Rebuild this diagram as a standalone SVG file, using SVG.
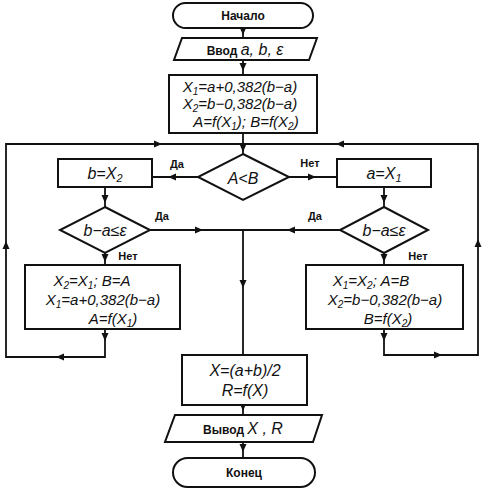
<svg xmlns="http://www.w3.org/2000/svg" xmlns:xlink="http://www.w3.org/1999/xlink" width="494" height="500" viewBox="0 0 494 500">
<style>
.s{fill:#fff;stroke:#111;stroke-width:2}
.c{fill:none;stroke:#111;stroke-width:1.8}
.f{font-family:"Liberation Sans","DejaVu Sans",sans-serif;font-style:italic;font-size:16px;fill:#111;text-anchor:middle}
.m{font-size:15px}
.l{font-family:"Liberation Sans","DejaVu Sans",sans-serif;font-weight:bold;font-size:11px;fill:#111;text-anchor:middle}
.t{font-family:"Liberation Sans","DejaVu Sans",sans-serif;font-weight:bold;font-size:12px;fill:#111;text-anchor:middle}
</style>
<defs>
<path id="ah" d="M0,0 L-8,-3.5 L-8,3.5 Z" fill="#111"/>
</defs>
<rect width="494" height="500" fill="#fff"/>
<g id="connectors">
<path class="c" d="M243,28 V38 M243,60 V75 M243,133 V154"/>
<path class="c" d="M198,177 H152 M289,177 H337"/>
<path class="c" d="M105,187 V207 M384,187 V207"/>
<path class="c" d="M150,230 H384 M243,230 V355"/>
<path class="c" d="M105,253 V265 M384,253 V265"/>
<path class="c" d="M105,329 V357 H6 V144 H478 V355 H384 V329"/>
<path class="c" d="M243,405 V415 M243,442 V458"/>
<circle cx="243" cy="146" r="2" fill="#111"/>
<use xlink:href="#ah" transform="translate(243,35) rotate(90)"/>
<use xlink:href="#ah" transform="translate(243,71) rotate(90)"/>
<use xlink:href="#ah" transform="translate(243,152) rotate(90)"/>
<use xlink:href="#ah" transform="translate(168,177) rotate(180)"/>
<use xlink:href="#ah" transform="translate(316,177)"/>
<use xlink:href="#ah" transform="translate(105,203) rotate(90)"/>
<use xlink:href="#ah" transform="translate(384,203) rotate(90)"/>
<use xlink:href="#ah" transform="translate(203,230)"/>
<use xlink:href="#ah" transform="translate(287,230) rotate(180)"/>
<use xlink:href="#ah" transform="translate(243,288) rotate(90)"/>
<use xlink:href="#ah" transform="translate(105,262) rotate(90)"/>
<use xlink:href="#ah" transform="translate(384,262) rotate(90)"/>
<use xlink:href="#ah" transform="translate(105,341) rotate(90)"/>
<use xlink:href="#ah" transform="translate(384,341) rotate(90)"/>
<use xlink:href="#ah" transform="translate(56,357) rotate(180)"/>
<use xlink:href="#ah" transform="translate(442,355)"/>
<use xlink:href="#ah" transform="translate(6,241) rotate(-90)"/>
<use xlink:href="#ah" transform="translate(478,239) rotate(-90)"/>
<use xlink:href="#ah" transform="translate(162,144)"/>
<use xlink:href="#ah" transform="translate(336,144) rotate(180)"/>
<use xlink:href="#ah" transform="translate(243,411) rotate(90)"/>
<use xlink:href="#ah" transform="translate(243,452) rotate(90)"/>
<text class="l" x="177" y="168">Да</text>
<text class="l" x="310" y="167">Нет</text>
<text class="l" x="162" y="220">Да</text>
<text class="l" x="315" y="220">Да</text>
<text class="l" x="128" y="260">Нет</text>
<text class="l" x="418" y="260">Нет</text>
</g>
<g id="start">
<rect class="s" x="173" y="3" width="140" height="25" rx="12.5"/>
<text class="t" x="243" y="20">Начало</text>
</g>
<g id="input">
<polygon class="s" points="182,38 317,38 309,60 174,60"/>
<text class="f" x="245" y="55"><tspan class="t" style="font-style:normal">Ввод </tspan>a, b, ε</text>
</g>
<g id="init">
<rect class="s" x="169" y="75" width="148" height="58"/>
<text class="f m" x="240" y="92">X<tspan font-size="10" baseline-shift="-3">1</tspan>=a+0,382(b−a)</text>
<text class="f m" x="240" y="109">X<tspan font-size="10" baseline-shift="-3">2</tspan>=b−0,382(b−a)</text>
<text class="f m" x="246" y="127">A=f(X<tspan font-size="10" baseline-shift="-3">1</tspan>); B=f(X<tspan font-size="10" baseline-shift="-3">2</tspan>)</text>
</g>
<g id="cmp">
<polygon class="s" points="243,154 289,177 243,200 198,177"/>
<text class="f" x="243" y="184" font-size="18">A&lt;B</text>
</g>
<g id="setb">
<rect class="s" x="58" y="159" width="94" height="28"/>
<text class="f" x="105" y="179" font-size="17">b=X<tspan font-size="11" baseline-shift="-3">2</tspan></text>
</g>
<g id="seta">
<rect class="s" x="337" y="159" width="94" height="28"/>
<text class="f" x="384" y="179" font-size="17">a=X<tspan font-size="11" baseline-shift="-3">1</tspan></text>
</g>
<g id="checkL">
<polygon class="s" points="105,207 150,230 105,253 60,230"/>
<text class="f" x="105" y="236">b−a≤ε</text>
</g>
<g id="checkR">
<polygon class="s" points="384,207 428,230 384,253 340,230"/>
<text class="f" x="384" y="236">b−a≤ε</text>
</g>
<g id="updL">
<rect class="s" x="25" y="265" width="155" height="64"/>
<text class="f m" x="92" y="286">X<tspan font-size="10" baseline-shift="-3">2</tspan>=X<tspan font-size="10" baseline-shift="-3">1</tspan>;  B=A</text>
<text class="f m" x="103" y="305">X<tspan font-size="10" baseline-shift="-3">1</tspan>=a+0,382(b−a)</text>
<text class="f m" x="113" y="324">A=f(X<tspan font-size="10" baseline-shift="-3">1</tspan>)</text>
</g>
<g id="updR">
<rect class="s" x="306" y="265" width="157" height="64"/>
<text class="f m" x="371" y="286">X<tspan font-size="10" baseline-shift="-3">1</tspan>=X<tspan font-size="10" baseline-shift="-3">2</tspan>;  A=B</text>
<text class="f m" x="385" y="305">X<tspan font-size="10" baseline-shift="-3">2</tspan>=b−0,382(b−a)</text>
<text class="f m" x="388" y="324">B=f(X<tspan font-size="10" baseline-shift="-3">2</tspan>)</text>
</g>
<g id="result">
<rect class="s" x="182" y="355" width="125" height="50"/>
<text class="f" x="245" y="376">X=(a+b)/2</text>
<text class="f" x="245" y="396">R=f(X)</text>
</g>
<g id="output">
<polygon class="s" points="175,415 322,415 313,442 165,442"/>
<text class="f" x="243" y="434"><tspan class="t" style="font-style:normal">Вывод  </tspan> X , R</text>
</g>
<g id="end">
<rect class="s" x="173" y="458" width="142" height="29" rx="14.5"/>
<text class="t" x="244" y="477">Конец</text>
</g>
</svg>
